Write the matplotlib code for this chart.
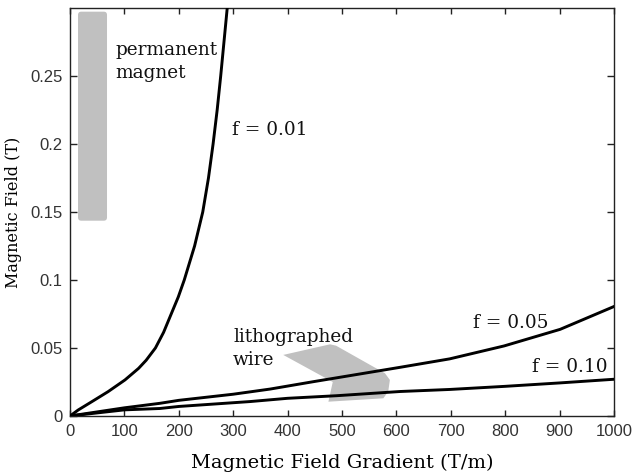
import matplotlib
matplotlib.use("Agg")
import matplotlib.pyplot as plt
from matplotlib import font_manager
from matplotlib.patches import FancyBboxPatch, Polygon

# field needed vs. gradient for three trapping fractions f
grad_f001 = [0, 15, 40, 70, 101, 126, 140, 157, 172, 186, 199, 210, 229, 244, 254.5, 263,
             270.5, 277, 283, 289]
field_f001 = [0, 0.0044, 0.0105, 0.0179, 0.0265, 0.035, 0.041, 0.05, 0.0615, 0.075, 0.0875,
              0.1, 0.125, 0.15, 0.175, 0.2, 0.225, 0.25, 0.275, 0.3]

grad_f005 = [0, 50, 100, 165, 200, 300, 368, 447, 521, 607, 698, 798, 901, 1000]
field_f005 = [0, 0.003, 0.006, 0.0093, 0.0115, 0.016, 0.0198, 0.0252, 0.0301, 0.0358,
              0.042, 0.0515, 0.0637, 0.0805]

grad_f010 = [0, 100, 165, 200, 331, 400, 490, 607, 698, 800, 900, 1000]
field_f010 = [0, 0.0045, 0.0055, 0.007, 0.0106, 0.013, 0.0149, 0.018, 0.0195, 0.0218,
              0.0243, 0.027]

# operating regions of the two field sources
wire_region = [(392, 0.0449), (478, 0.0527), (489, 0.0517), (579, 0.0314), (588, 0.0265),
               (585, 0.018), (576, 0.013), (475, 0.0105), (483, 0.025)]
magnet_grad = (14.7, 68.0)
magnet_field = (0.1436, 0.2973)

x_ticks = [0, 100, 200, 300, 400, 500, 600, 700, 800, 900, 1000]
y_ticks = [0, 0.05, 0.1, 0.15, 0.2, 0.25]
y_tick_labels = ["0", "0.05", "0.1", "0.15", "0.2", "0.25"]

installed = {f.name for f in font_manager.fontManager.ttflist}
tick_font = "Liberation Sans Narrow" if "Liberation Sans Narrow" in installed else "Liberation Sans"
serif = "DejaVu Serif"
gray = "#c0c0c0"

fig = plt.figure(figsize=(6.32, 4.76), dpi=100)
ax = fig.add_axes([0.1108, 0.1261, 0.8607, 0.8571])

ax.add_patch(FancyBboxPatch((magnet_grad[0], magnet_field[0]),
                            magnet_grad[1] - magnet_grad[0],
                            magnet_field[1] - magnet_field[0],
                            boxstyle="round,pad=0,rounding_size=6",
                            mutation_aspect=0.0004,
                            facecolor=gray, edgecolor="none", zorder=1))
ax.add_patch(Polygon(wire_region, closed=True, facecolor=gray, edgecolor="none", zorder=1))

for g, b in [(grad_f001, field_f001), (grad_f005, field_f005), (grad_f010, field_f010)]:
    ax.plot(g, b, color="black", lw=2.1, solid_joinstyle="round", zorder=3)

txt = dict(family=serif, fontsize=13.3, color="#111111", va="baseline")
ax.text(82.7, 0.2485, "permanent\nmagnet", linespacing=1.35, **txt)
ax.text(299.6, 0.0375, "lithographed\nwire", linespacing=1.35, **txt)
ax.text(297.8, 0.2066, "f = 0.01", **txt)
ax.text(740.8, 0.0647, "f = 0.05", **txt)
ax.text(850.0, 0.0324, "f = 0.10", **txt)

ax.set_xlim(0, 1000)
ax.set_ylim(0, 0.3)
ax.set_xticks(x_ticks)
ax.set_yticks(y_ticks)
ax.set_yticklabels(y_tick_labels)
ax.tick_params(axis="both", direction="in", top=True, right=True, width=1.0,
               colors="#222222", labelcolor="#333333", labelsize=12, pad=5.5)
ax.tick_params(axis="x", length=4.1)
ax.tick_params(axis="y", length=5.0)
for lab in ax.get_xticklabels() + ax.get_yticklabels():
    lab.set_family(tick_font)
for s in ax.spines.values():
    s.set_linewidth(1.0)
    s.set_color("#222222")

ax.set_xlabel("Magnetic Field Gradient (T/m)", family=serif, fontsize=14, labelpad=11)
ax.set_ylabel("Magnetic Field (T)", family=serif, fontsize=11.5)
ax.yaxis.set_label_coords(-0.088, 0.5)

fig.savefig("out.png", dpi=100)
